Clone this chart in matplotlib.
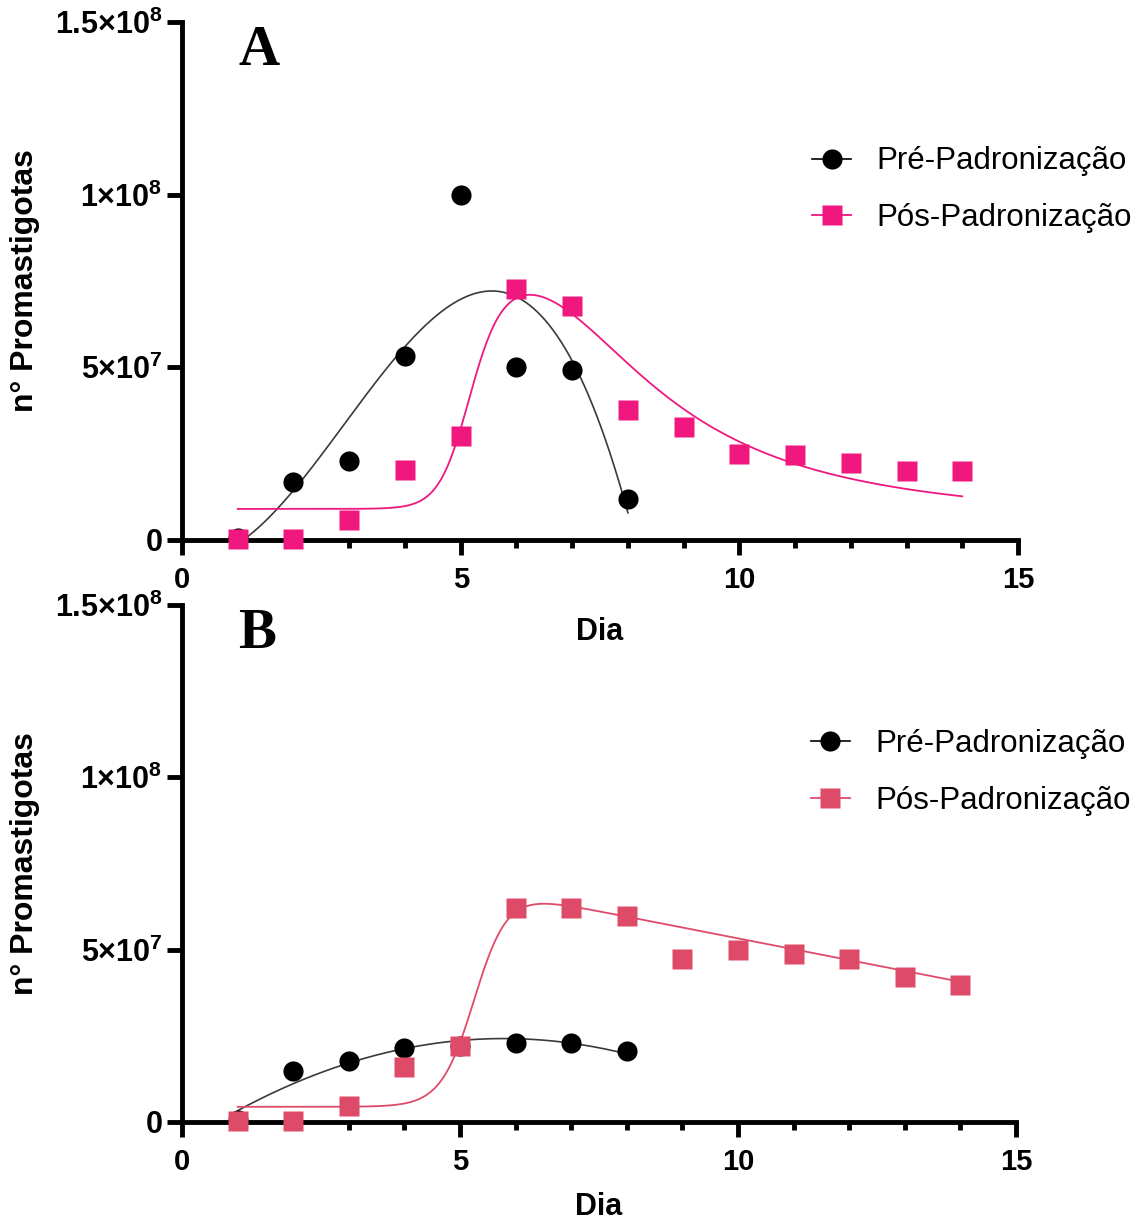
import numpy as np
import matplotlib
matplotlib.use("Agg")
import matplotlib.pyplot as plt
from matplotlib.lines import Line2D
from matplotlib.ticker import FixedLocator, MultipleLocator

plt.rcParams.update({
    'font.family': ['Liberation Sans', 'DejaVu Sans'],
    'mathtext.fontset': 'custom',
    'mathtext.rm': 'Liberation Sans:bold',
    'mathtext.it': 'Liberation Sans:bold',
    'mathtext.bf': 'Liberation Sans:bold',
})

# ── Data ────────────────────────────────────────────────────────
days_pre = [1, 2, 3, 4, 5, 6, 7, 8]
days_pos = [1, 2, 3, 4, 5, 6, 7, 8, 9, 10, 11, 12, 13, 14]

pre_A = [0.05e7, 1.69e7, 2.30e7, 5.32e7, 10.0e7, 5.00e7, 4.91e7, 1.19e7]
pos_A = [0.02e7, 0.03e7, 0.58e7, 2.03e7, 3.00e7, 7.27e7, 6.77e7,
         3.75e7, 3.26e7, 2.50e7, 2.47e7, 2.24e7, 2.00e7, 2.00e7]

pre_B = [0.06e7, 1.48e7, 1.77e7, 2.15e7, 2.20e7, 2.30e7, 2.30e7, 2.06e7]
pos_B = [0.03e7, 0.02e7, 0.47e7, 1.60e7, 2.20e7, 6.22e7, 6.22e7,
         5.99e7, 4.74e7, 5.00e7, 4.88e7, 4.74e7, 4.20e7, 3.98e7]

# polynomial order of the "Pré" fits, and parameters of the "Pós" fits
poly_order = {'A': 3, 'B': 2}
fitA = dict(base=0.9e7, floor=0.45e7, amp=6.8e7, xp=6.0, w=2.95, xm=5.1, s=0.28)
fitB = dict(base=0.44e7, top=6.43e7, xtop=6.5, slope=-0.315e7, xm=5.27, s=0.30)

PINK_A = '#F0177F'
PINK_B = '#DE4B69'
yticks = [0, 5e7, 1e8, 1.5e8]
ytick_labels = ['0', r'$5×10^{7}$', r'$1×10^{8}$', r'$1.5×10^{8}$']


def logistic(x, xm, s):
    return 1.0 / (1.0 + np.exp(-(x - xm) / s))


def pos_curve_A(x, p):
    peak = p['floor'] + p['amp'] / (1 + ((x - p['xp']) / p['w']) ** 2)
    return p['base'] + logistic(x, p['xm'], p['s']) * (peak - p['base'])


def pos_curve_B(x, p):
    line = p['top'] + p['slope'] * (x - p['xtop'])
    return p['base'] + logistic(x, p['xm'], p['s']) * (line - p['base'])


fig = plt.figure(figsize=(11.42, 12.25), dpi=100)
axA = fig.add_axes([0.1594, 0.5592, 0.7320, 0.4229])
axB = fig.add_axes([0.1594, 0.0841, 0.7303, 0.4220])
axB.patch.set_visible(False)


def draw_panel(ax, pre, pos, pink, pos_fit, letter, xlabelpad):
    xs_pre = np.linspace(1, 8, 300)
    coef = np.polyfit(days_pre, pre, poly_order[letter])
    ax.plot(xs_pre, np.polyval(coef, xs_pre), color='#3a3a3a', lw=1.2, zorder=2)
    xs_pos = np.linspace(1, 14, 400)
    ax.plot(xs_pos, pos_fit(xs_pos), color=pink, lw=1.3, zorder=2)

    ax.plot(days_pre, pre, 'o', color='black', ms=14.5, mec='none', zorder=3, clip_on=False)
    ax.plot(days_pos, pos, 's', color=pink, ms=14.5, mec='none', zorder=4, clip_on=False)

    ax.set_xlim(0, 15)
    ax.set_ylim(0, 1.5e8)
    for side in ['top', 'right']:
        ax.spines[side].set_visible(False)
    for side in ['left', 'bottom']:
        ax.spines[side].set_linewidth(3.5)
        ax.spines[side].set_capstyle('projecting')
    ax.xaxis.set_major_locator(MultipleLocator(5))
    ax.xaxis.set_minor_locator(MultipleLocator(1))
    ax.yaxis.set_major_locator(FixedLocator(yticks))
    ax.set_yticklabels(ytick_labels)
    ax.tick_params(axis='both', which='major', length=11, width=3.5)
    ax.tick_params(axis='x', which='major', labelsize=21, pad=8)
    ax.tick_params(axis='y', which='major', labelsize=22, pad=3)
    ax.tick_params(axis='x', which='minor', length=6, width=3.5)
    for lab in ax.get_xticklabels() + ax.get_yticklabels():
        lab.set_fontweight('bold')

    ax.set_xlabel('Dia', fontsize=22, fontweight='bold', labelpad=xlabelpad)
    ax.set_ylabel('n° Promastigotas', fontsize=23, fontweight='bold', labelpad=11)

    ax.text(0.067, 0.917, letter, transform=ax.transAxes, fontsize=41,
            fontweight='bold', family='Liberation Serif', ha='left', va='baseline')

    handles = [
        Line2D([], [], color='black', lw=1.2, marker='o', ms=14.5, mec='none'),
        Line2D([], [], color=pink, lw=1.3, marker='s', ms=14.5, mec='none'),
    ]
    ax.legend(handles, ['Pré-Padronização', 'Pós-Padronização'],
              loc='center left', bbox_to_anchor=(0.754, 0.676),
              frameon=False, fontsize=22.5, borderpad=0, borderaxespad=0,
              handlelength=1.25, handletextpad=0.8, labelspacing=0.85)


draw_panel(axA, pre_A, pos_A, PINK_A, lambda x: pos_curve_A(x, fitA), 'A', 16)
draw_panel(axB, pre_B, pos_B, PINK_B, lambda x: pos_curve_B(x, fitB), 'B', 11)

fig.savefig('out.png', dpi=100)
